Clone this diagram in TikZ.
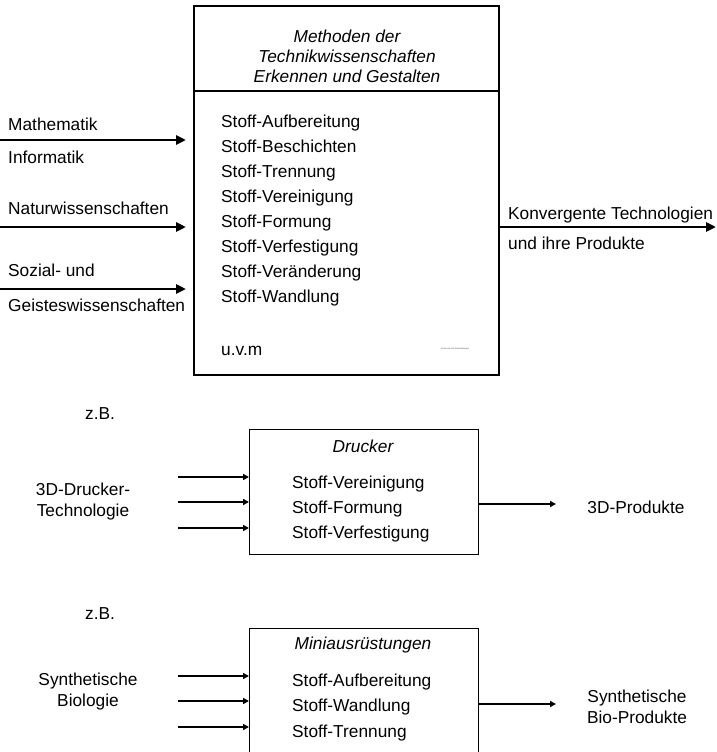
\documentclass[tikz,border=0pt]{standalone}
\usepackage{fontspec}
\setmainfont{Liberation Sans}
\usetikzlibrary{arrows.meta}
\begin{document}
\begin{tikzpicture}[x=1pt,y=-1pt,
  box/.style={draw,line width=1.3pt,inner sep=0pt},
  txt/.style={font=\fontsize{17.3}{20}\selectfont,inner sep=0pt},
  ttl/.style={font=\fontsize{17.3}{20}\selectfont\itshape,inner sep=0pt},
  bigarrow/.style={line width=2.6pt,-{Triangle[length=10pt,width=9pt]}},
  smallarrow/.style={line width=2.4pt,-{Triangle[length=6pt,width=6pt]}}]
\useasboundingbox (0,0) rectangle (716,752);
% ---------- main box ----------
\node (mbox) [box,minimum width=305pt,minimum height=369pt] at (346.5,190.5) {};
\coordinate (divL) at (194,91);
\coordinate (divR) at (499,91);
\draw[line width=1.3pt] (divL) -- (divR);
\node (mtitle) [ttl,align=center] at (347,56) {Methoden der\\Technikwissenschaften\\Erkennen und Gestalten};
\foreach \t [count=\i] in {Stoff-Aufbereitung,Stoff-Beschichten,Stoff-Trennung,Stoff-Vereinigung,Stoff-Formung,Stoff-Verfestigung,Stoff-Ver\"anderung,Stoff-Wandlung}
  \node (m\i) [txt,anchor=base west] at (221,{127+25*(\i-1)}) {\t};
\node (uvm) [txt,anchor=base west] at (221,355) {u.v.m};
\node (tiny) [inner sep=0pt,font=\fontsize{2.2}{3}\selectfont,text=black!70] at (455,349) {Prozesse und Anwendungen};
% inputs
\node (math) [txt,anchor=base west] at (8,130) {Mathematik};
\node (info) [txt,anchor=base west] at (8,163) {Informatik};
\node (natur) [txt,anchor=base west] at (8,214) {Naturwissenschaften};
\node (sozial) [txt,anchor=base west] at (8,276) {Sozial- und};
\node (geist) [txt,anchor=base west] at (8,311) {Geisteswissenschaften};
\coordinate (a1s) at (0,140); \coordinate (a1e) at (186,140);
\coordinate (a2s) at (0,227); \coordinate (a2e) at (186,227);
\coordinate (a3s) at (0,289); \coordinate (a3e) at (186,289);
\draw[bigarrow] (a1s) -- (a1e);
\draw[bigarrow] (a2s) -- (a2e);
\draw[bigarrow] (a3s) -- (a3e);
% output
\coordinate (oute) at (716,227);
\draw[bigarrow] (mbox.east |- oute) -- (oute);
\node (konv) [txt,anchor=base west] at (508,219) {Konvergente Technologien};
\node (ihre) [txt,anchor=base west] at (508,249) {und ihre Produkte};
% ---------- Drucker ----------
\node (zb1) [txt,anchor=base west] at (85,419) {z.B.};
\node (dbox) [box,minimum width=229pt,minimum height=125pt,anchor=north west] at (249,429) {};
\node (dtitle) [ttl] at (363,446) {Drucker};
\node (d1) [txt,anchor=base west] at (292,488) {Stoff-Vereinigung};
\node (d2) [txt,anchor=base west] at (292,513) {Stoff-Formung};
\node (d3) [txt,anchor=base west] at (292,538) {Stoff-Verfestigung};
\node (dtech) [txt,align=center,font=\fontsize{17.3}{21}\selectfont] at (83,502) {3D-Drucker-\\Technologie};
\foreach \y [count=\i] in {477,502,528} {
  \coordinate (ds\i) at (178,\y);
  \draw[smallarrow] (ds\i) -- (dbox.west |- ds\i);
}
\coordinate (doute) at (556,504);
\draw[smallarrow] (dbox.east |- doute) -- (doute);
\node (dprod) [txt] at (636,507) {3D-Produkte};
% ---------- Miniausruestungen ----------
\node (zb2) [txt,anchor=base west] at (85,619) {z.B.};
\node (bbox) [box,minimum width=229pt,minimum height=140pt,anchor=north west] at (249,628) {};
\node (btitle) [ttl] at (363,645) {Miniausr\"ustungen};
\node (b1) [txt,anchor=base west] at (292,686) {Stoff-Aufbereitung};
\node (b2) [txt,anchor=base west] at (292,711) {Stoff-Wandlung};
\node (b3) [txt,anchor=base west] at (292,737) {Stoff-Trennung};
\node (sbio) [txt,align=center,font=\fontsize{17.3}{21}\selectfont] at (88,692) {Synthetische\\Biologie};
\foreach \y [count=\i] in {676,701,727} {
  \coordinate (bs\i) at (178,\y);
  \draw[smallarrow] (bs\i) -- (bbox.west |- bs\i);
}
\coordinate (boute) at (556,704);
\draw[smallarrow] (bbox.east |- boute) -- (boute);
\node (sprod) [txt,align=center,font=\fontsize{17.3}{21}\selectfont] at (637,707) {Synthetische\\Bio-Produkte};
\end{tikzpicture}
\end{document}
